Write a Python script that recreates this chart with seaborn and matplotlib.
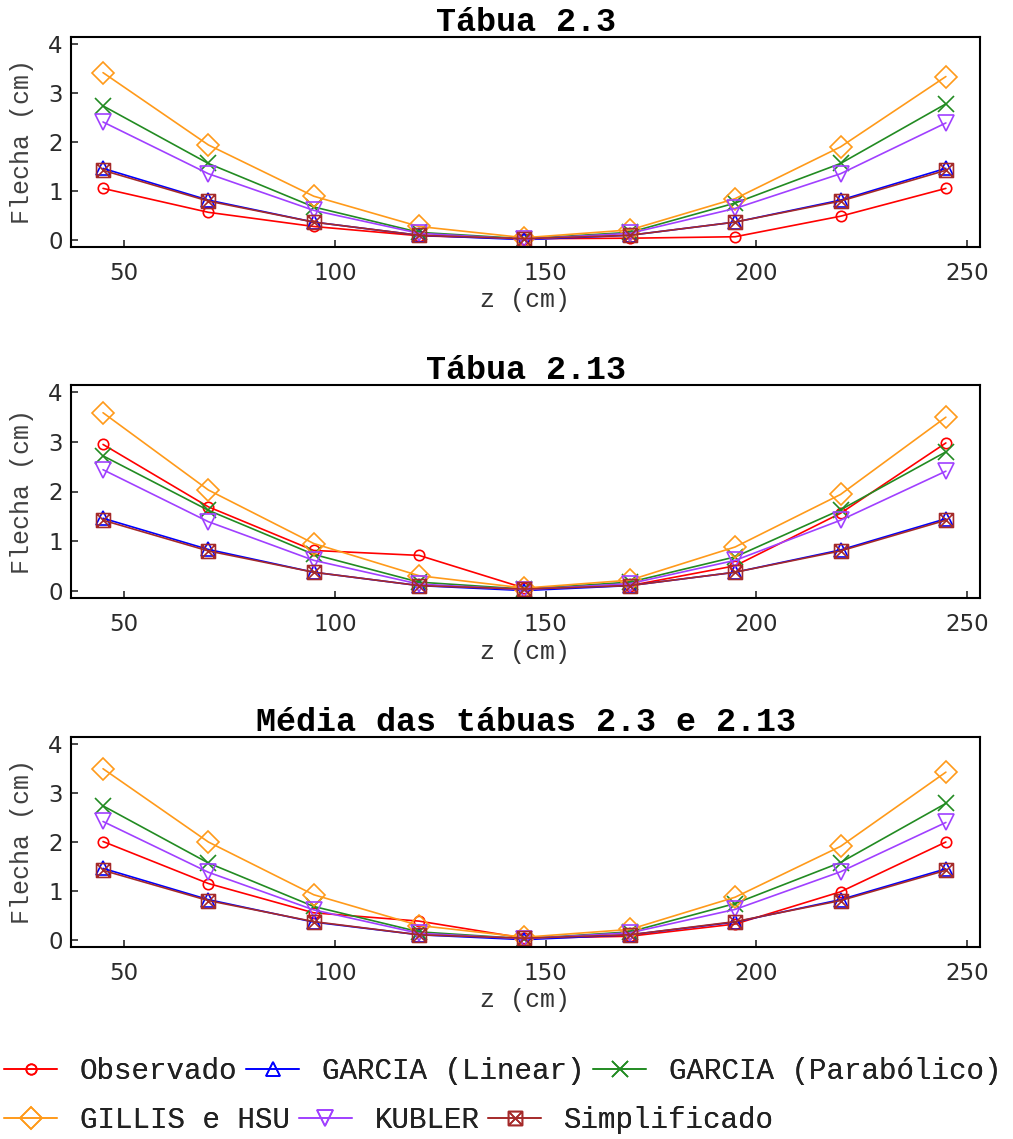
import numpy as np
import pandas as pd
import matplotlib
matplotlib.use("Agg")
import matplotlib.pyplot as plt
import seaborn as sns
from matplotlib.path import Path
from matplotlib.font_manager import FontProperties

# ---------------- data ----------------
z = [45, 70, 95, 120, 145, 170, 195, 220, 245]

models = ["Observado", "GARCIA (Linear)", "GARCIA (Parabólico)",
          "GILLIS e HSU", "KUBLER", "Simplificado"]

titles = ["Tábua 2.3", "Tábua 2.13", "Média das tábuas 2.3 e 2.13"]

# Tábua 2.3
obs1 = [1.05, 0.56, 0.27, 0.08, 0.02, 0.03, 0.06, 0.48, 1.05]
lin1 = [1.46, 0.81, 0.36, 0.09, 0.00, 0.09, 0.36, 0.81, 1.46]
par1 = [2.74, 1.56, 0.67, 0.15, 0.02, 0.15, 0.75, 1.56, 2.78]
gil1 = [3.42, 1.94, 0.89, 0.27, 0.04, 0.20, 0.84, 1.90, 3.34]
kub1 = [2.41, 1.35, 0.60, 0.13, 0.01, 0.13, 0.64, 1.35, 2.39]
sim1 = [1.42, 0.79, 0.36, 0.09, 0.02, 0.09, 0.36, 0.79, 1.42]

# Tábua 2.13
obs2 = [2.95, 1.69, 0.81, 0.71, 0.05, 0.10, 0.50, 1.56, 2.98]
lin2 = [1.46, 0.83, 0.37, 0.10, 0.00, 0.10, 0.37, 0.82, 1.45]
par2 = [2.72, 1.62, 0.73, 0.17, 0.03, 0.17, 0.68, 1.63, 2.80]
gil2 = [3.59, 2.03, 0.95, 0.30, 0.05, 0.21, 0.88, 1.94, 3.50]
kub2 = [2.44, 1.39, 0.61, 0.13, 0.02, 0.14, 0.61, 1.42, 2.41]
sim2 = [1.42, 0.80, 0.37, 0.10, 0.03, 0.10, 0.37, 0.80, 1.42]

# Média
obs3 = [2.01, 1.15, 0.55, 0.38, 0.03, 0.07, 0.32, 0.98, 2.00]
lin3 = [1.46, 0.82, 0.36, 0.10, 0.00, 0.10, 0.36, 0.82, 1.45]
par3 = [2.74, 1.57, 0.68, 0.16, 0.02, 0.16, 0.74, 1.58, 2.79]
gil3 = [3.50, 2.00, 0.92, 0.29, 0.05, 0.21, 0.87, 1.91, 3.43]
kub3 = [2.42, 1.38, 0.61, 0.13, 0.02, 0.14, 0.62, 1.39, 2.40]
sim3 = [1.42, 0.80, 0.37, 0.10, 0.03, 0.10, 0.37, 0.80, 1.42]

panels = [
    [obs1, lin1, par1, gil1, kub1, sim1],
    [obs2, lin2, par2, gil2, kub2, sim2],
    [obs3, lin3, par3, gil3, kub3, sim3],
]

x_ticks = [50, 100, 150, 200, 250]
y_ticks = [0, 1, 2, 3, 4]

# ---------------- styles ----------------
boxx = Path(
    [(-1, -1), (1, -1), (1, 1), (-1, 1), (-1, -1),
     (-1, -1), (1, 1), (-1, 1), (1, -1)],
    [Path.MOVETO, Path.LINETO, Path.LINETO, Path.LINETO, Path.CLOSEPOLY,
     Path.MOVETO, Path.LINETO, Path.MOVETO, Path.LINETO])

colors = {
    "Observado": "#ff0000",
    "GARCIA (Linear)": "#0000ff",
    "GARCIA (Parabólico)": "#228b22",
    "GILLIS e HSU": "#ff9a1a",
    "KUBLER": "#a040ff",
    "Simplificado": "#a52a2a",
}
markers = {
    "Observado": "o",
    "GARCIA (Linear)": "^",
    "GARCIA (Parabólico)": "x",
    "GILLIS e HSU": "D",
    "KUBLER": "v",
    "Simplificado": boxx,
}
msizes = {
    "Observado": 7.5,
    "GARCIA (Linear)": 10,
    "GARCIA (Parabólico)": 11,
    "GILLIS e HSU": 11,
    "KUBLER": 12,
    "Simplificado": 10,
}

sns.set_theme(style="white")
plt.rcParams["font.family"] = ["DejaVu Sans"]

W, H = 1013, 1139
fig = plt.figure(figsize=(W / 100, H / 100), dpi=100)

ax_px = [(71, 980, 37, 247), (71, 980, 385, 598), (71, 980, 737, 947)]

mono = "Liberation Mono"
axes = []
for i, (l, r, t, b) in enumerate(ax_px):
    ax = fig.add_axes([l / W, 1 - b / H, (r - l) / W, (b - t) / H])
    axes.append(ax)
    rows = []
    for m, vals in zip(models, panels[i]):
        for zz, v in zip(z, vals):
            rows.append({"z": zz, "Flecha": v, "Modelo": m})
    df = pd.DataFrame(rows)
    for m in models:
        c = colors[m]
        sns.lineplot(data=df[df["Modelo"] == m], x="z", y="Flecha", ax=ax,
                     color=c, marker=markers[m], markersize=msizes[m],
                     markerfacecolor="none", markeredgecolor=c,
                     markeredgewidth=1.2, linewidth=1.2, label=m,
                     legend=False, errorbar=None)
    ax.set_xlim(37.4, 253.1)
    ax.set_ylim(-0.15, 4.15)
    ax.set_xticks(x_ticks)
    ax.set_yticks(y_ticks)
    ax.tick_params(axis="both", direction="in", length=5, width=1.2,
                   colors="#2b2b2b", labelsize=16.5, top=False, right=False,
                   bottom=True, left=True)
    ax.tick_params(axis="x", pad=11)
    ax.tick_params(axis="y", pad=6)
    for s in ax.spines.values():
        s.set_color("black")
        s.set_linewidth(1.5)
    ax.set_xlabel("z (cm)", fontfamily=mono, fontsize=18, color="#333333")
    ax.set_ylabel("Flecha (cm)", fontfamily=mono, fontsize=18, color="#404040")
    ax.xaxis.set_label_coords(0.5, -0.195)
    ax.yaxis.set_label_coords(-0.041, 0.5)
    ax.set_title(titles[i], fontfamily=mono, fontweight="bold", fontsize=24,
                 color="black", pad=4)

lines = {ln.get_label(): ln for ln in axes[2].get_lines()}
prop = FontProperties(family=mono, size=21)
row1 = models[:3]
row2 = models[3:]
for row, ypx in [(row1, 1071), (row2, 1120)]:
    leg = fig.legend([lines[m] for m in row], row, loc="center left",
                     bbox_to_anchor=(4 / W, 1 - ypx / H), ncol=3,
                     frameon=False, borderpad=0, borderaxespad=0,
                     handlelength=1.82, handletextpad=0.78,
                     columnspacing=0.3, prop=prop, labelcolor="#222222")
    fig.add_artist(leg)

fig.savefig("out.png", dpi=100, facecolor="white")
